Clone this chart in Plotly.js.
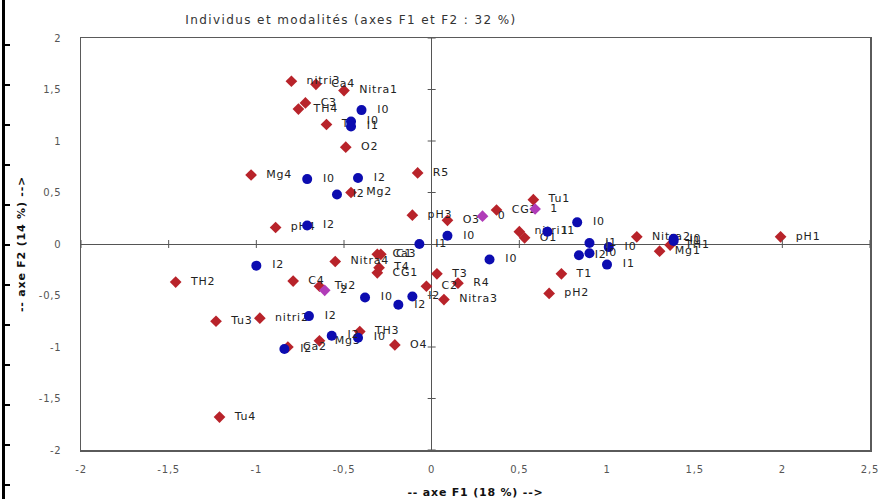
<!DOCTYPE html>
<html>
<head>
<meta charset="utf-8">
<script src="https://cdn.plot.ly/plotly-3.0.1.min.js"></script>
<style>
html,body{margin:0;padding:0;background:#fff;}
#chart text{letter-spacing:0.8px;}
#chart .gtitle{letter-spacing:1.4px !important;}
</style>
</head>
<body>
<div id="chart" style="width:887px;height:499px;"></div>
<script>
// Modalités (red diamonds)
const modLabels = ['nitri3','Ca4','Nitra1','C3','TH4','T2','O2','Mg4','Mg2','R5','pH4','pH3','O3','CG2','Tu1','nitri1','O1','Nitra2','TH1','Mg1','pH1','T1','pH2','Ca3','C1','Nitra4','T4','CG1','T3','TH2','C4','Tu2','C2','R4','Nitra3','Tu3','nitri2','TH3','Mg3','Ca2','O4','Tu4'];
const modX = [-0.80,-0.66,-0.50,-0.72,-0.76,-0.60,-0.49,-1.03,-0.46,-0.08,-0.89,-0.11,0.09,0.37,0.58,0.50,0.53,1.17,1.36,1.30,1.99,0.74,0.67,-0.31,-0.29,-0.55,-0.30,-0.31,0.03,-1.46,-0.79,-0.64,-0.03,0.15,0.07,-1.23,-0.98,-0.41,-0.64,-0.82,-0.21,-1.21];
const modY = [1.58,1.55,1.49,1.37,1.31,1.16,0.94,0.67,0.50,0.69,0.16,0.28,0.23,0.33,0.43,0.12,0.06,0.07,-0.01,-0.07,0.07,-0.29,-0.48,-0.10,-0.10,-0.17,-0.23,-0.28,-0.29,-0.37,-0.36,-0.41,-0.41,-0.38,-0.54,-0.75,-0.72,-0.85,-0.94,-1.00,-0.98,-1.68];

// Individus (blue circles)
const indLabels = ['I0','I0','I1','I0','I2','I2','I2','I0','I1','I1','I0','I1','I2','I0','I0','I1','I0','I0','I1','I2','I0','I2','I2','I2','I2','I0','I2'];
const indX = [-0.40,-0.46,-0.46,-0.71,-0.42,-0.54,-0.71,0.09,-0.07,0.66,0.83,0.90,0.84,0.90,1.01,1.00,0.33,1.38,1.38,-1.00,-0.38,-0.11,-0.19,-0.70,-0.57,-0.42,-0.84];
const indY = [1.30,1.19,1.14,0.63,0.64,0.48,0.18,0.08,0.00,0.12,0.21,0.01,-0.11,-0.09,-0.03,-0.20,-0.15,0.05,0.03,-0.21,-0.52,-0.51,-0.59,-0.70,-0.89,-0.91,-1.02];

// Supplementary (magenta diamonds)
const supLabels = ['0','1','2'];
const supX = [0.29,0.59,-0.61];
const supY = [0.27,0.34,-0.45];

const xTickVals = [-2,-1.5,-1,-0.5,0,0.5,1,1.5,2,2.5];
const xTickText = ['-2','-1,5','-1','-0,5','0','0,5','1','1,5','2','2,5'];
const yTickVals = [-2,-1.5,-1,-0.5,0,0.5,1,1.5,2];
const yTickText = ['-2','-1,5','-1','-0,5','0','0,5','1','1,5','2'];

const pad = s => '\u00a0\u00a0' + s;
const labelFont = {family:'DejaVu Sans, sans-serif', size:11, color:'#222'};

const traces = [
  {x:modX, y:modY, text:modLabels.map(pad), mode:'markers+text', type:'scatter',
   textposition:'middle right', textfont:labelFont, cliponaxis:false,
   marker:{symbol:'diamond', size:9, color:'#B8232A'}, hoverinfo:'text'},
  {x:indX, y:indY, text:indLabels.map(pad), mode:'markers+text', type:'scatter',
   textposition:'middle right', textfont:labelFont, cliponaxis:false,
   marker:{symbol:'circle', size:10, color:'#0C0CB0'}, hoverinfo:'text'},
  {x:supX, y:supY, text:supLabels.map(pad), mode:'markers+text', type:'scatter',
   textposition:'middle right', textfont:labelFont, cliponaxis:false,
   marker:{symbol:'diamond', size:9, color:'#B03CB8'}, hoverinfo:'text'}
];

const shapes = [];
// tick marks on the zero lines
xTickVals.forEach(v => { if (v !== 0) shapes.push({type:'line', xref:'x', yref:'y', ysizemode:'pixel', yanchor:0, x0:v, x1:v, y0:-4, y1:4, line:{color:'#555', width:1}}); });
yTickVals.forEach(v => { if (v !== 0) shapes.push({type:'line', xref:'x', yref:'y', xsizemode:'pixel', xanchor:0, y0:v, y1:v, x0:-4, x1:4, line:{color:'#555', width:1}}); });
// left border artifact
const plotTop = 38, plotH = 412, plotL = 81, plotW = 789;
const px2px = p => (p - plotL) / plotW;
const py2py = p => (plotTop + plotH - p) / plotH;
shapes.push({type:'line', xref:'paper', yref:'paper', x0:px2px(3.5), x1:px2px(3.5), y0:py2py(0), y1:py2py(499), line:{color:'#000', width:3}});
for (let k = 0; k < 12; k++) {
  const py = 45 + 40*k;
  shapes.push({type:'line', xref:'paper', yref:'paper', x0:px2px(3), x1:px2px(10), y0:py2py(py), y1:py2py(py), line:{color:'#000', width:2}});
}

const axisCommon = {
  showgrid:false, zeroline:true, zerolinecolor:'#555', zerolinewidth:1,
  showline:true, mirror:true, linecolor:'#5a5a5a', linewidth:1.5,
  ticks:'', tickfont:{family:'DejaVu Sans, sans-serif', size:10, color:'#555'},
  fixedrange:true
};

const layout = {
  width:887, height:499,
  margin:{l:81, r:17, t:38, b:49},
  paper_bgcolor:'#fff', plot_bgcolor:'#fff',
  showlegend:false,
  title:{text:'Individus et modalités (axes F1 et F2 : 32 %)', x:351/887, xref:'container', xanchor:'center',
         y:1-20/499, yref:'container', yanchor:'middle',
         font:{family:'DejaVu Sans, sans-serif', size:12, color:'#333'}},
  xaxis:Object.assign({}, axisCommon, {range:[-2,2.5], tickmode:'array', tickvals:xTickVals, ticktext:xTickText,
         ticklabelstandoff:9,
         title:{text:'-- axe F1 (18 %) -->', standoff:15, font:{family:'DejaVu Sans, sans-serif', size:11, color:'#111', weight:'bold'}}}),
  yaxis:Object.assign({}, axisCommon, {range:[-2,2], tickmode:'array', tickvals:yTickVals, ticktext:yTickText,
         ticklabelstandoff:16,
         title:{text:'-- axe F2 (14 %) -->', standoff:14, font:{family:'DejaVu Sans, sans-serif', size:11, color:'#111', weight:'bold'}}}),
  shapes:shapes
};

Plotly.newPlot('chart', traces, layout, {displayModeBar:false, staticPlot:true});
</script>
</body>
</html>
